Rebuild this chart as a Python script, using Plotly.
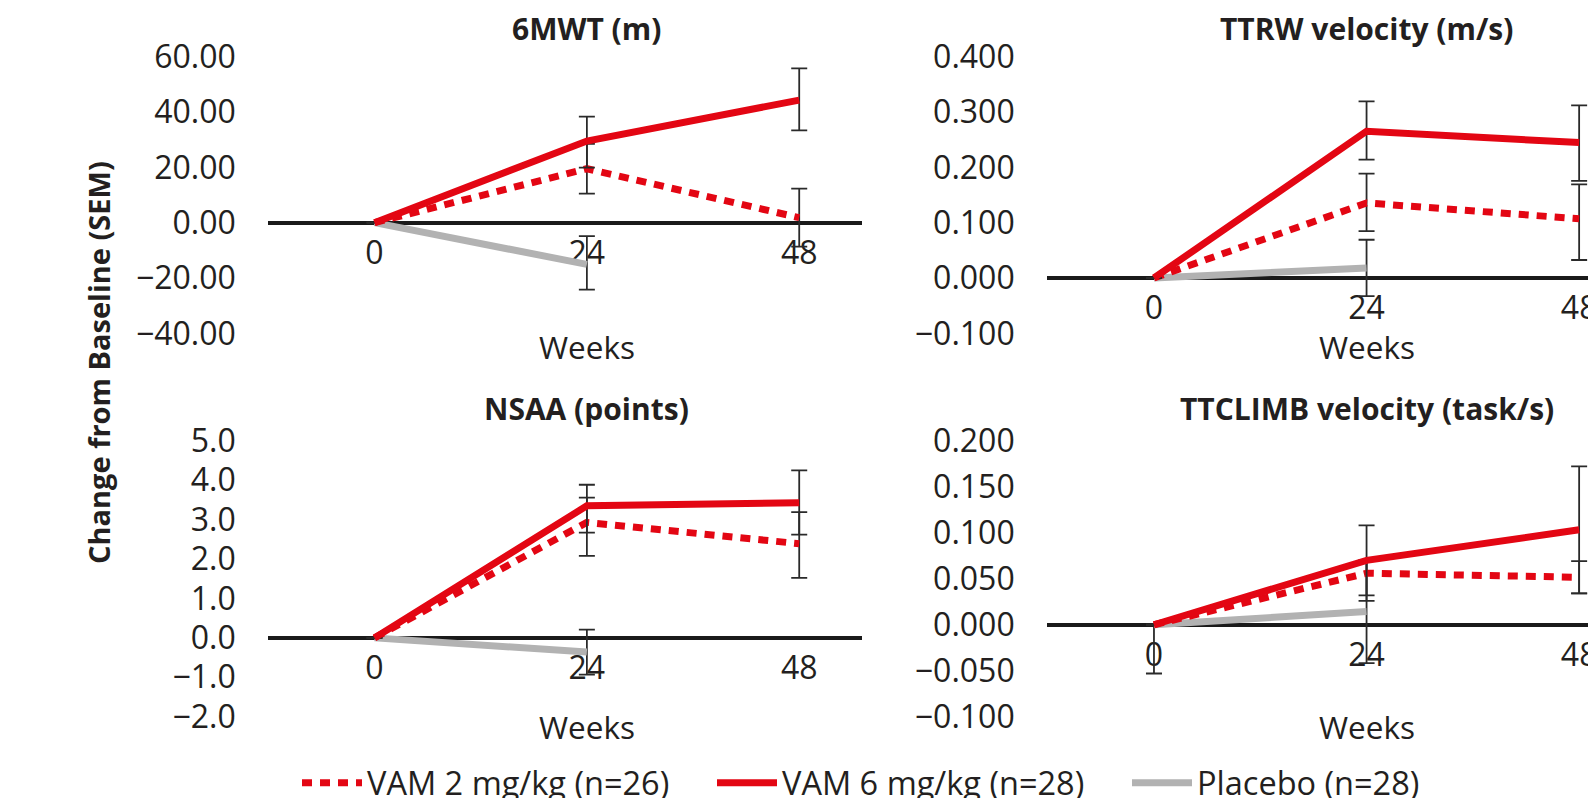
import plotly.graph_objects as go

W, H = 1588, 798

# ---------------- data ----------------
weeks = [0, 24, 48]
weeks_pbo = [0, 24]
tick_weeks = [0, 24, 48]

series_names = ["VAM 2 mg/kg (n=26)", "VAM 6 mg/kg (n=28)", "Placebo (n=28)"]
panel_titles = ["6MWT (m)", "TTRW velocity (m/s)", "NSAA (points)", "TTCLIMB velocity (task/s)"]
x_title = "Weeks"
y_title = "Change from Baseline (SEM)"

# 6MWT (m)
mwt_vam2 = [0, 19.5, 1.8]
mwt_vam2_plus = [0, 9.0, 10.5]
mwt_vam2_minus = [0, 9.0, 10.5]
mwt_vam6 = [0, 29.5, 44.3]
mwt_vam6_plus = [0, 8.8, 11.5]
mwt_vam6_minus = [0, 9.6, 10.9]
mwt_pbo = [0, -15.1]
mwt_pbo_plus = [0, 10.2]
mwt_pbo_minus = [0, 9.1]
mwt_ticks = [-40, -20, 0, 20, 40, 60]

# TTRW velocity (m/s)
ttrw_vam2 = [0, 0.1356, 0.107]
ttrw_vam2_plus = [0, 0.053, 0.0623]
ttrw_vam2_minus = [0, 0.051, 0.0745]
ttrw_vam6 = [0, 0.2653, 0.2447]
ttrw_vam6_plus = [0, 0.054, 0.0674]
ttrw_vam6_minus = [0, 0.0514, 0.0693]
ttrw_pbo = [0, 0.0181]
ttrw_pbo_plus = [0, 0.051]
ttrw_pbo_minus = [0, 0.051]
ttrw_ticks = [-0.1, 0.0, 0.1, 0.2, 0.3, 0.4]

# NSAA (points)
nsaa_vam2 = [0, 2.93, 2.39]
nsaa_vam2_plus = [0, 0.63, 0.80]
nsaa_vam2_minus = [0, 0.85, 0.87]
nsaa_vam6 = [0, 3.35, 3.43]
nsaa_vam6_plus = [0, 0.535, 0.82]
nsaa_vam6_minus = [0, 0.68, 0.81]
nsaa_pbo = [0, -0.36]
nsaa_pbo_plus = [0, 0.57]
nsaa_pbo_minus = [0, 0.57]
nsaa_ticks = [-2, -1, 0, 1, 2, 3, 4, 5]

# TTCLIMB velocity (task/s)
ttc_vam2 = [0, 0.056, 0.0516]
ttc_vam2_plus = [0, 0.014, 0.0175]
ttc_vam2_minus = [0, 0.030, 0.0175]
ttc_vam6 = [0, 0.070, 0.1032]
ttc_vam6_plus = [0, 0.038, 0.069]
ttc_vam6_minus = [0, 0.038, 0.069]
ttc_pbo = [0, 0.0143]
ttc_pbo_plus = [0, 0.056]
ttc_pbo_minus = [0.053, 0.056]
ttc_ticks = [-0.1, -0.05, 0.0, 0.05, 0.1, 0.15, 0.2]

panels = [
    dict(vam2=(mwt_vam2, mwt_vam2_plus, mwt_vam2_minus),
         vam6=(mwt_vam6, mwt_vam6_plus, mwt_vam6_minus),
         pbo=(mwt_pbo, mwt_pbo_plus, mwt_pbo_minus),
         ticks=mwt_ticks, fmt=".2f"),
    dict(vam2=(ttrw_vam2, ttrw_vam2_plus, ttrw_vam2_minus),
         vam6=(ttrw_vam6, ttrw_vam6_plus, ttrw_vam6_minus),
         pbo=(ttrw_pbo, ttrw_pbo_plus, ttrw_pbo_minus),
         ticks=ttrw_ticks, fmt=".3f"),
    dict(vam2=(nsaa_vam2, nsaa_vam2_plus, nsaa_vam2_minus),
         vam6=(nsaa_vam6, nsaa_vam6_plus, nsaa_vam6_minus),
         pbo=(nsaa_pbo, nsaa_pbo_plus, nsaa_pbo_minus),
         ticks=nsaa_ticks, fmt=".1f"),
    dict(vam2=(ttc_vam2, ttc_vam2_plus, ttc_vam2_minus),
         vam6=(ttc_vam6, ttc_vam6_plus, ttc_vam6_minus),
         pbo=(ttc_pbo, ttc_pbo_plus, ttc_pbo_minus),
         ticks=ttc_ticks, fmt=".3f"),
]

# ---------------- styling / layout ----------------
FONT = "Open Sans"
TXT = "#231f20"
RED = "#e30613"
GREY = "#b2b2b2"
ERR = "#2a2a2a"

def px_x(p):
    return p / W

def px_y(p):
    return 1 - p / H

# plot-area geometry (pixels)
left_dom = [px_x(267.8), px_x(862.4)]
right_dom = [px_x(1046.7), 1.0]
top_dom = [px_y(333.3), px_y(56.7)]
bot_dom = [px_y(716.7), px_y(440.8)]
left_range = [-12.06, 55.14]
right_range = [-12.11, 49.0]

xdoms = [left_dom, right_dom, left_dom, right_dom]
ydoms = [top_dom, top_dom, bot_dom, bot_dom]
xranges = [left_range, right_range, left_range, right_range]
title_y_px = [28, 28, 408, 408]
weeks_y_px = [346.7, 346.7, 726.7, 726.7]

fig = go.Figure()

def err(plus, minus):
    return dict(type="data", symmetric=False, array=plus, arrayminus=minus,
                color=ERR, thickness=1.8, width=8)

for i, p in enumerate(panels):
    xa = "x" if i == 0 else f"x{i+1}"
    ya = "y" if i == 0 else f"y{i+1}"
    show = i == 0
    y, pl, mi = p["pbo"]
    fig.add_trace(go.Scatter(x=weeks_pbo, y=y, mode="lines", name=series_names[2],
                             line=dict(color=GREY, width=7), error_y=err(pl, mi),
                             xaxis=xa, yaxis=ya, showlegend=show, legendrank=3,
                             legendgroup="pbo"))
    y, pl, mi = p["vam2"]
    fig.add_trace(go.Scatter(x=weeks, y=y, mode="lines", name=series_names[0],
                             line=dict(color=RED, width=7, dash="10px,8px"),
                             error_y=err(pl, mi),
                             xaxis=xa, yaxis=ya, showlegend=show, legendrank=1,
                             legendgroup="vam2"))
    y, pl, mi = p["vam6"]
    fig.add_trace(go.Scatter(x=weeks, y=y, mode="lines", name=series_names[1],
                             line=dict(color=RED, width=7), error_y=err(pl, mi),
                             xaxis=xa, yaxis=ya, showlegend=show, legendrank=2,
                             legendgroup="vam6"))

layout = dict(
    width=W, height=H, autosize=False,
    margin=dict(l=0, r=0, t=0, b=0, pad=0, autoexpand=False),
    paper_bgcolor="white", plot_bgcolor="white",
    font=dict(family=FONT, color=TXT, size=31),
    legend=dict(orientation="h", x=px_x(297), xanchor="left",
                y=px_y(783), yanchor="middle",
                font=dict(size=32.5, family=FONT, color=TXT),
                entrywidth=340, entrywidthmode="pixels", itemwidth=60,
                bgcolor="rgba(0,0,0,0)", traceorder="normal"),
    annotations=[],
)

for i, p in enumerate(panels):
    sx = "" if i == 0 else str(i + 1)
    t = p["ticks"]
    yr = [t[0], t[-1]]
    d0, d1 = ydoms[i]
    zero_pos = d0 + (0 - yr[0]) / (yr[1] - yr[0]) * (d1 - d0)
    layout["xaxis" + sx] = dict(
        domain=xdoms[i], range=xranges[i], anchor="free", position=zero_pos,
        tickvals=tick_weeks, ticktext=[str(v) for v in tick_weeks],
        showline=True, linecolor="#1a1a1a", linewidth=4, layer="below traces",
        showgrid=False, zeroline=False, ticks="", ticklabelstandoff=1,
        ticklabeloverflow="allow", automargin=False,
        tickfont=dict(size=32, family=FONT, color=TXT), fixedrange=True,
    )
    layout["yaxis" + sx] = dict(
        domain=ydoms[i], range=yr, anchor="x" + sx,
        tickvals=t, tickformat=p["fmt"],
        showline=False, showgrid=False, zeroline=False, ticks="",
        ticklabelstandoff=31, ticklabeloverflow="allow", automargin=False,
        tickfont=dict(size=32, family=FONT, color=TXT), fixedrange=True,
    )
    layout["annotations"].append(dict(
        text=f"<b>{panel_titles[i]}</b>", x=24, xref="x" + sx,
        y=px_y(title_y_px[i]), yref="paper", xanchor="center", yanchor="middle",
        showarrow=False, font=dict(size=30, family=FONT, color=TXT)))
    layout["annotations"].append(dict(
        text=x_title, x=24, xref="x" + sx,
        y=px_y(weeks_y_px[i]), yref="paper", xanchor="center", yanchor="middle",
        showarrow=False, font=dict(size=31.5, family=FONT, color=TXT)))

layout["annotations"].append(dict(
    text=f"<b>{y_title}</b>", x=px_x(98), y=px_y(363), xref="paper", yref="paper",
    xanchor="center", yanchor="middle", textangle=-90, showarrow=False,
    font=dict(size=29, family=FONT, color=TXT)))

fig.update_layout(**layout)
fig.write_html("out.html", config={"displayModeBar": False},
               post_script="document.body.style.margin='0';document.body.style.overflow='hidden';")
